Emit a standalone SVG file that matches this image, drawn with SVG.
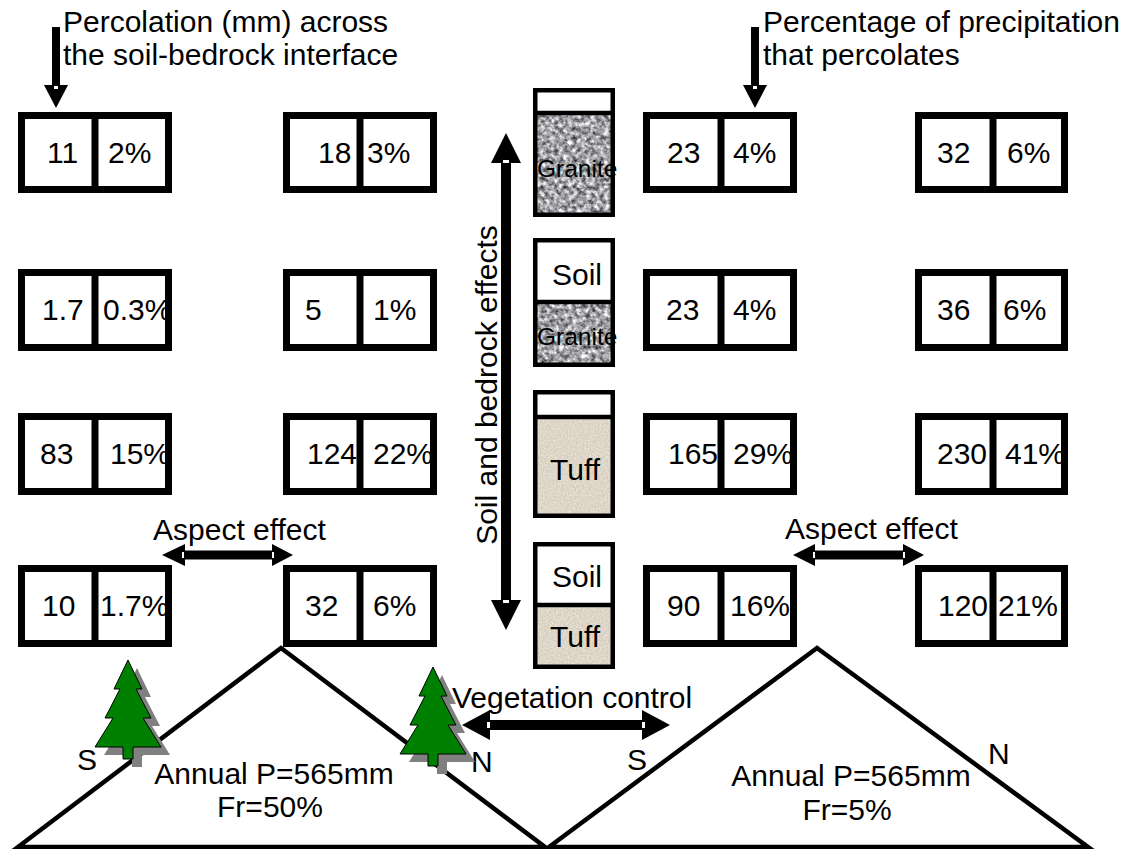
<svg xmlns="http://www.w3.org/2000/svg" width="1134" height="849" viewBox="0 0 1134 849">
  <style>
    text { font-family: "Liberation Sans", Arial, sans-serif; fill: #000; }
    .lbl { font-size: 30px; }
    .small { font-size: 24.5px; }
    .cell { fill: #fff; stroke: #000; stroke-width: 7; }
    .div { stroke: #000; stroke-width: 7; }
    .col { fill: none; stroke: #000; stroke-width: 4.5; }
    .coldiv { stroke: #000; stroke-width: 4.5; }
    .hill { fill: #fff; stroke: #000; stroke-width: 4.5; stroke-linejoin: miter; }
    .arrow { fill: #000; }
    .notch { fill: #fff; }
    .tree { fill: #008000; stroke: #000; stroke-width: 1; }
    .shadow { fill: #808080; }
  </style>
  <defs>
    <filter id="granite" x="0" y="0" width="1" height="1" color-interpolation-filters="sRGB">
      <feTurbulence type="fractalNoise" baseFrequency="0.22" numOctaves="3" seed="7" result="n"/>
      <feColorMatrix in="n" type="matrix" values="1.3 0 0 0 -0.02  1.3 0 0 0 -0.02  1.3 0 0 0 0.0  0 0 0 0 1" result="g"/>
      <feComposite in="g" in2="SourceGraphic" operator="in"/>
    </filter>
    <filter id="tuff" x="0" y="0" width="1" height="1" color-interpolation-filters="sRGB">
      <feTurbulence type="fractalNoise" baseFrequency="0.6" numOctaves="1" seed="3" result="n"/>
      <feColorMatrix in="n" type="matrix" values="0.2 0 0 0 0.77  0.2 0 0 0 0.74  0.2 0 0 0 0.685  0 0 0 0 1" result="g"/>
      <feComposite in="g" in2="SourceGraphic" operator="in"/>
    </filter>
    <path id="pine" d="M0,0 L14,29 L8,29 L23,58 L15,58 L33,87 L5,87 L5,99 L-5,99 L-5,87 L-33,87 L-15,58 L-23,58 L-8,29 L-14,29 Z"/>
  </defs>

  <rect width="1134" height="849" fill="#fff"/>

  <!-- hillslopes -->
  <g id="hill-left">
    <polygon class="hill" points="18,847 281,648 545,847"/>
    <text class="lbl" x="77" y="770">S</text>
    <text class="lbl" x="471" y="772">N</text>
    <text class="lbl" x="274" y="784" text-anchor="middle">Annual P=565mm</text>
    <text class="lbl" x="270" y="817" text-anchor="middle">Fr=50%</text>
  </g>
  <g id="hill-right">
    <polygon class="hill" points="549,847 817,648 1088,847"/>
    <text class="lbl" x="627" y="770">S</text>
    <text class="lbl" x="988" y="764">N</text>
    <text class="lbl" x="851" y="786" text-anchor="middle">Annual P=565mm</text>
    <text class="lbl" x="847" y="820" text-anchor="middle">Fr=5%</text>
  </g>

  <!-- trees -->
  <g id="tree-south">
    <use href="#pine" class="shadow" transform="translate(137,668)"/>
    <use href="#pine" class="tree" transform="translate(128,660)"/>
  </g>
  <g id="tree-north">
    <use href="#pine" class="shadow" transform="translate(442,675)"/>
    <use href="#pine" class="tree" transform="translate(433,667)"/>
  </g>

  <!-- headings -->
  <g id="heading-left">
    <text class="lbl" x="63" y="32">Percolation (mm) across</text>
    <text class="lbl" x="63" y="65">the soil-bedrock interface</text>
  </g>
  <g id="heading-right">
    <text class="lbl" x="763" y="32">Percentage of precipitation</text>
    <text class="lbl" x="763" y="65">that percolates</text>
  </g>

  <!-- bedrock columns -->
  <g id="col-granite">
    <rect x="535" y="113" width="78" height="102" filter="url(#granite)" fill="#000"/>
    <rect class="col" x="535.25" y="90.25" width="77.5" height="124.5"/>
    <line class="coldiv" x1="533" y1="113" x2="615" y2="113"/>
    <text class="small" x="537" y="177">Granite</text>
  </g>
  <g id="col-soil-granite">
    <rect x="535" y="302" width="78" height="63" filter="url(#granite)" fill="#000"/>
    <rect class="col" x="535.25" y="240.25" width="77.5" height="124.5"/>
    <line class="coldiv" x1="533" y1="302" x2="615" y2="302"/>
    <text class="lbl" x="552" y="285">Soil</text>
    <text class="small" x="537" y="345">Granite</text>
  </g>
  <g id="col-tuff">
    <rect x="535" y="417" width="78" height="99" filter="url(#tuff)" fill="#000"/>
    <rect class="col" x="535.25" y="392.25" width="77.5" height="123.5"/>
    <line class="coldiv" x1="533" y1="417" x2="615" y2="417"/>
    <text class="lbl" x="550" y="480">Tuff</text>
  </g>
  <g id="col-soil-tuff">
    <rect x="535" y="605" width="78" height="62" filter="url(#tuff)" fill="#000"/>
    <rect class="col" x="535.25" y="544.25" width="77.5" height="122.5"/>
    <line class="coldiv" x1="533" y1="605" x2="615" y2="605"/>
    <text class="lbl" x="552" y="587">Soil</text>
    <text class="lbl" x="550" y="647">Tuff</text>
  </g>

  <!-- value boxes: row 1 -->
  <g id="r1-a">
    <rect class="cell" x="21.5" y="115.5" width="147" height="74"/>
    <line class="div" x1="95" y1="112" x2="95" y2="193"/>
    <text class="lbl" x="47" y="163">11</text>
    <text class="lbl" x="108" y="163">2%</text>
  </g>
  <g id="r1-b">
    <rect class="cell" x="286.5" y="115.5" width="147" height="74"/>
    <line class="div" x1="360" y1="112" x2="360" y2="193"/>
    <text class="lbl" x="318" y="163">18</text>
    <text class="lbl" x="367" y="163">3%</text>
  </g>
  <g id="r1-c">
    <rect class="cell" x="646.5" y="115.5" width="147" height="74"/>
    <line class="div" x1="721" y1="112" x2="721" y2="193"/>
    <text class="lbl" x="667" y="163">23</text>
    <text class="lbl" x="733" y="163">4%</text>
  </g>
  <g id="r1-d">
    <rect class="cell" x="918.5" y="115.5" width="146" height="74"/>
    <line class="div" x1="993" y1="112" x2="993" y2="193"/>
    <text class="lbl" x="937" y="163">32</text>
    <text class="lbl" x="1007" y="163">6%</text>
  </g>

  <!-- row 2 -->
  <g id="r2-a">
    <rect class="cell" x="21.5" y="272.5" width="147" height="75"/>
    <line class="div" x1="95" y1="269" x2="95" y2="351"/>
    <text class="lbl" x="42" y="320">1.7</text>
    <text class="lbl" x="103" y="320">0.3%</text>
  </g>
  <g id="r2-b">
    <rect class="cell" x="286.5" y="272.5" width="147" height="75"/>
    <line class="div" x1="360" y1="269" x2="360" y2="351"/>
    <text class="lbl" x="305" y="320">5</text>
    <text class="lbl" x="373" y="320">1%</text>
  </g>
  <g id="r2-c">
    <rect class="cell" x="646.5" y="272.5" width="147" height="75"/>
    <line class="div" x1="721" y1="269" x2="721" y2="351"/>
    <text class="lbl" x="666" y="320">23</text>
    <text class="lbl" x="733" y="320">4%</text>
  </g>
  <g id="r2-d">
    <rect class="cell" x="918.5" y="272.5" width="146" height="75"/>
    <line class="div" x1="993" y1="269" x2="993" y2="351"/>
    <text class="lbl" x="937" y="320">36</text>
    <text class="lbl" x="1003" y="320">6%</text>
  </g>

  <!-- row 3 -->
  <g id="r3-a">
    <rect class="cell" x="21.5" y="416.5" width="147" height="75"/>
    <line class="div" x1="95" y1="413" x2="95" y2="495"/>
    <text class="lbl" x="40" y="464">83</text>
    <text class="lbl" x="110" y="464">15%</text>
  </g>
  <g id="r3-b">
    <rect class="cell" x="286.5" y="416.5" width="147" height="75"/>
    <line class="div" x1="360" y1="413" x2="360" y2="495"/>
    <text class="lbl" x="307" y="464">124</text>
    <text class="lbl" x="373" y="464">22%</text>
  </g>
  <g id="r3-c">
    <rect class="cell" x="646.5" y="416.5" width="147" height="75"/>
    <line class="div" x1="721" y1="413" x2="721" y2="495"/>
    <text class="lbl" x="668" y="464">165</text>
    <text class="lbl" x="733" y="464">29%</text>
  </g>
  <g id="r3-d">
    <rect class="cell" x="918.5" y="416.5" width="146" height="75"/>
    <line class="div" x1="993" y1="413" x2="993" y2="495"/>
    <text class="lbl" x="937" y="464">230</text>
    <text class="lbl" x="1005" y="464">41%</text>
  </g>

  <!-- row 4 -->
  <g id="r4-a">
    <rect class="cell" x="21.5" y="568.5" width="147" height="75"/>
    <line class="div" x1="95" y1="565" x2="95" y2="647"/>
    <text class="lbl" x="42" y="616">10</text>
    <text class="lbl" x="100" y="616">1.7%</text>
  </g>
  <g id="r4-b">
    <rect class="cell" x="286.5" y="568.5" width="147" height="75"/>
    <line class="div" x1="360" y1="565" x2="360" y2="647"/>
    <text class="lbl" x="305" y="616">32</text>
    <text class="lbl" x="373" y="616">6%</text>
  </g>
  <g id="r4-c">
    <rect class="cell" x="646.5" y="568.5" width="147" height="75"/>
    <line class="div" x1="721" y1="565" x2="721" y2="647"/>
    <text class="lbl" x="667" y="616">90</text>
    <text class="lbl" x="730" y="616">16%</text>
  </g>
  <g id="r4-d">
    <rect class="cell" x="918.5" y="568.5" width="146" height="75"/>
    <line class="div" x1="993" y1="565" x2="993" y2="647"/>
    <text class="lbl" x="938" y="616">120</text>
    <text class="lbl" x="998" y="616">21%</text>
  </g>

  <!-- arrows -->
  <g id="connectors">
    <!-- pointer to percolation value -->
    <rect class="arrow" x="52" y="27" width="8" height="60"/>
    <polygon class="arrow" points="44,85 68,85 56,108"/>
    <rect class="notch" x="54" y="86" width="4" height="3"/>
    <!-- pointer to percentage value -->
    <rect class="arrow" x="751" y="27" width="8" height="60"/>
    <polygon class="arrow" points="743,85 767,85 755,108"/>
    <rect class="notch" x="753" y="86" width="4" height="3"/>

    <!-- soil and bedrock effects -->
    <rect class="arrow" x="501" y="160" width="10" height="443"/>
    <polygon class="arrow" points="506,133 491,163 521,163"/>
    <polygon class="arrow" points="506,630 491,600 521,600"/>
    <rect class="notch" x="503" y="160" width="6" height="3"/>
    <rect class="notch" x="503" y="600" width="6" height="3"/>

    <!-- aspect effect, left pair -->
    <rect class="arrow" x="183" y="550.5" width="91" height="9"/>
    <polygon class="arrow" points="162,555 185,544 185,566"/>
    <polygon class="arrow" points="293,555 272,544 272,566"/>
    <rect class="notch" x="182" y="552" width="2" height="6"/>
    <rect class="notch" x="272" y="552" width="2" height="6"/>

    <!-- aspect effect, right pair -->
    <rect class="arrow" x="813" y="550.5" width="92" height="9"/>
    <polygon class="arrow" points="793,555 815,544 815,566"/>
    <polygon class="arrow" points="924,555 903,544 903,566"/>
    <rect class="notch" x="813" y="552" width="2" height="6"/>
    <rect class="notch" x="903" y="552" width="2" height="6"/>

    <!-- vegetation control -->
    <rect class="arrow" x="488" y="720" width="156" height="10"/>
    <polygon class="arrow" points="462,725 490,710 490,740"/>
    <polygon class="arrow" points="670,725 642,710 642,740"/>
    <rect class="notch" x="487" y="722" width="3" height="6"/>
    <rect class="notch" x="642" y="722" width="3" height="6"/>
  </g>

  <!-- arrow captions -->
  <g id="captions">
    <text class="lbl" x="497" y="385" text-anchor="middle" transform="rotate(-90 497 385)">Soil and bedrock effects</text>
    <text class="lbl" x="153" y="540">Aspect effect</text>
    <text class="lbl" x="785" y="539">Aspect effect</text>
    <text class="lbl" x="452" y="708">Vegetation control</text>
  </g>
</svg>
